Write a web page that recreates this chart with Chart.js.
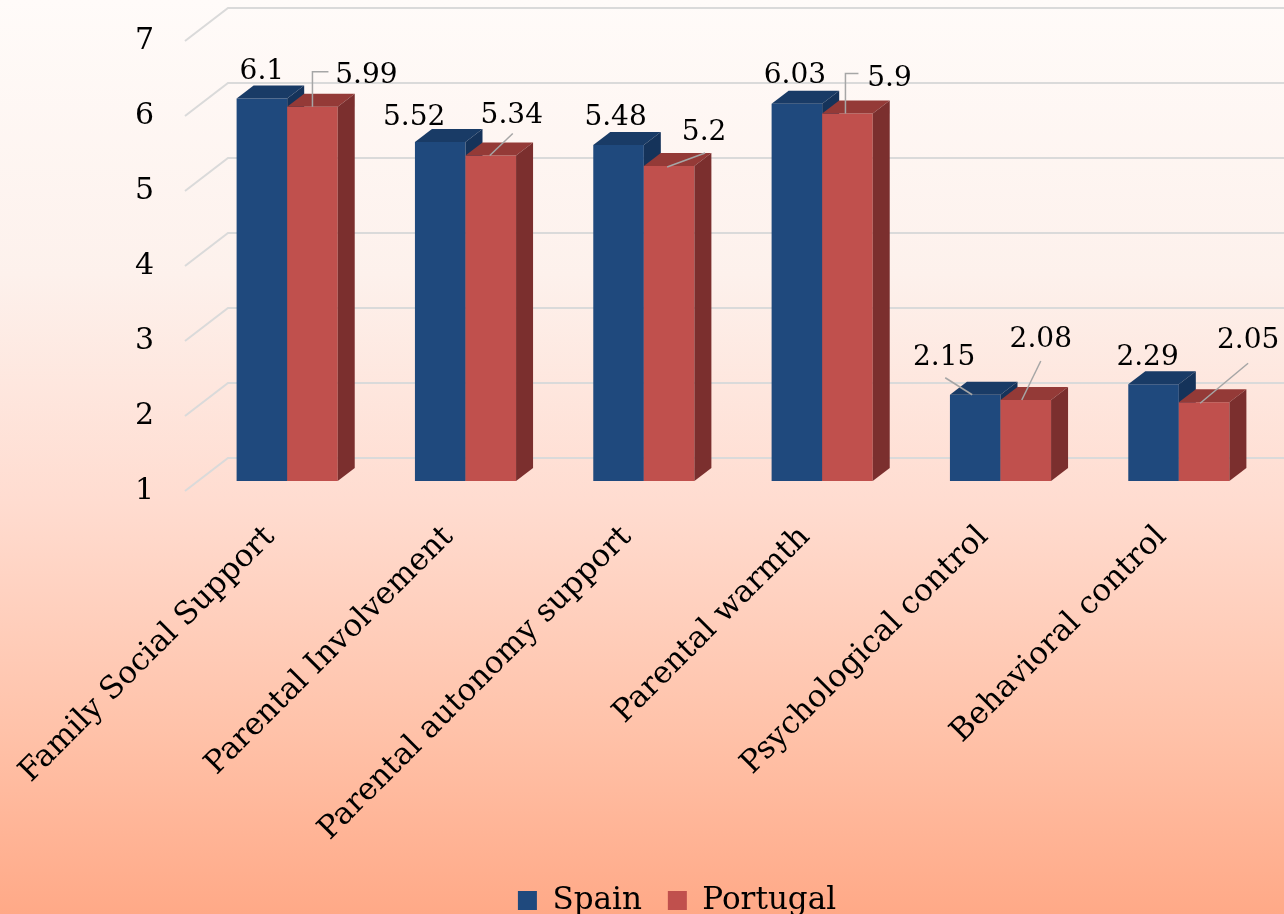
<!DOCTYPE html>
<html>
<head>
<meta charset="utf-8">
<title>Spain vs Portugal</title>
<script src="https://cdn.jsdelivr.net/npm/chart.js@4.4.1/dist/chart.umd.min.js"></script>
<style>
  html, body { margin: 0; padding: 0; background: #fff; }
  #wrap { width: 1284px; height: 914px; }
</style>
</head>
<body>
<div id="wrap"><canvas id="chart" width="1284" height="914"></canvas></div>
<script>
// Chart values
const categories = [
  'Family Social Support',
  'Parental Involvement',
  'Parental autonomy support',
  'Parental warmth',
  'Psychological control',
  'Behavioral control'
];
const spainValues = [6.1, 5.52, 5.48, 6.03, 2.15, 2.29];
const portugalValues = [5.99, 5.34, 5.2, 5.9, 2.08, 2.05];
const yTicks = [1, 2, 3, 4, 5, 6, 7];

// Colours for the 3D faces
const spainColors = { front: '#1F497D', top: '#193B66', side: '#15335A' };
const portugalColors = { front: '#C0504D', top: '#943A37', side: '#7B2F2E' };
const FONT = '"DejaVu Serif", "Liberation Serif", serif';

// Depth offsets (px) for the fake 3D look
const barDepth = { dx: 17, dy: 13 };
const frontPlane = { dx: -13, dy: 10 };
const backPlane = { dx: 30, dy: -23 };

// Data label placement relative to the top-centre of each bar front
const spainLabelPos = [[0, -20], [-26, -17], [-3, -20], [-2, -21], [-31, -30], [-6, -19]];
const spainLeaders = [null, null, null, null, [[-30, -17], [-3, 0]], null];
const portugalLabelPos = [[54, -24], [21, -33], [35, -26], [42, -28], [15, -53], [44, -54]];
const portugalLeaders = [
  [[0, 0], [0, -35], [16, -35]],
  [[-1, 0], [22, -22]],
  [[-2, 1], [36, -13]],
  [[-2, 0], [-2, -40], [11, -40]],
  [[-4, 0], [15, -39]],
  [[-4, 1], [44, -39]]
];

const LEFT_PAD = 86;
const AREA_LEFT = 198;
const AREA_BOTTOM = 481;
const BOTTOM_PAD = -12;

// Background gradient
const backgroundPlugin = {
  id: 'bgGradient',
  beforeDraw(chart) {
    const ctx = chart.ctx;
    const g = ctx.createLinearGradient(0, 0, 0, chart.height);
    g.addColorStop(0, '#FFFBF9');
    g.addColorStop(0.3, '#FDF1EC');
    g.addColorStop(0.55, '#FFDCD0');
    g.addColorStop(0.8, '#FFC2A9');
    g.addColorStop(1, '#FFA987');
    ctx.save();
    ctx.fillStyle = g;
    ctx.fillRect(0, 0, chart.width, chart.height);
    ctx.restore();
  }
};

function poly(ctx, pts, color) {
  ctx.beginPath();
  ctx.moveTo(pts[0][0], pts[0][1]);
  for (let k = 1; k < pts.length; k++) ctx.lineTo(pts[k][0], pts[k][1]);
  ctx.closePath();
  ctx.fillStyle = color;
  ctx.fill();
}

function drawBar(ctx, el, colors) {
  const p = el.getProps(['x', 'y', 'base', 'width'], true);
  const l = p.x - p.width / 2;
  const r = p.x + p.width / 2;
  const t = p.y;
  const b = p.base;
  const { dx, dy } = barDepth;
  poly(ctx, [[l, t], [r, t], [r, b], [l, b]], colors.front);
  poly(ctx, [[l, t], [l + dx, t - dy], [r + dx, t - dy], [r, t]], colors.top);
  poly(ctx, [[r, t], [r + dx, t - dy], [r + dx, b - dy], [r, b]], colors.side);
}

function drawLabels(ctx, meta, values, positions, leaders) {
  meta.data.forEach((el, i) => {
    const p = el.getProps(['x', 'y'], true);
    const lead = leaders[i];
    if (lead) {
      ctx.beginPath();
      ctx.moveTo(p.x + lead[0][0], p.y + lead[0][1]);
      for (let k = 1; k < lead.length; k++) ctx.lineTo(p.x + lead[k][0], p.y + lead[k][1]);
      ctx.strokeStyle = '#A6A6A6';
      ctx.lineWidth = 1.5;
      ctx.stroke();
    }
    ctx.fillStyle = '#000';
    ctx.fillText(String(values[i]), p.x + positions[i][0], p.y + positions[i][1]);
  });
}

// 3D walls, bars and data labels
const threeDPlugin = {
  id: 'threeD',
  beforeDatasetsDraw(chart) {
    const ctx = chart.ctx;
    const yScale = chart.scales.y;
    const area = chart.chartArea;
    ctx.save();

    // gridlines: short diagonal on the side wall, long line on the back wall
    ctx.strokeStyle = '#DADADA';
    ctx.lineWidth = 2;
    yTicks.forEach(v => {
      const y = yScale.getPixelForValue(v);
      ctx.beginPath();
      ctx.moveTo(area.left + frontPlane.dx, y + frontPlane.dy);
      ctx.lineTo(area.left + backPlane.dx, y + backPlane.dy);
      ctx.lineTo(chart.width, y + backPlane.dy);
      ctx.stroke();
    });

    const spainMeta = chart.getDatasetMeta(0);
    const portugalMeta = chart.getDatasetMeta(1);
    for (let i = 0; i < categories.length; i++) {
      drawBar(ctx, spainMeta.data[i], spainColors);
      drawBar(ctx, portugalMeta.data[i], portugalColors);
    }

    ctx.font = '28px ' + FONT;
    ctx.textAlign = 'center';
    ctx.textBaseline = 'alphabetic';
    drawLabels(ctx, spainMeta, spainValues, spainLabelPos, spainLeaders);
    drawLabels(ctx, portugalMeta, portugalValues, portugalLabelPos, portugalLeaders);

    ctx.restore();
    return false;
  }
};

const ctx = document.getElementById('chart').getContext('2d');
const chart = new Chart(ctx, {
  type: 'bar',
  data: {
    labels: categories,
    datasets: [
      {
        label: 'Spain',
        data: spainValues,
        backgroundColor: spainColors.front,
        borderWidth: 0
      },
      {
        label: 'Portugal',
        data: portugalValues,
        backgroundColor: portugalColors.front,
        borderWidth: 0
      }
    ]
  },
  options: {
    responsive: false,
    animation: false,
    devicePixelRatio: 1,
    layout: {
      padding: { top: 31, right: 16, left: LEFT_PAD, bottom: BOTTOM_PAD }
    },
    datasets: {
      bar: {
        base: 1,
        barPercentage: 1,
        categoryPercentage: 0.567
      }
    },
    scales: {
      x: {
        grid: { display: false },
        border: { display: false },
        ticks: {
          autoSkip: false,
          minRotation: 45,
          maxRotation: 45,
          labelOffset: -17,
          padding: 30,
          color: '#000',
          font: { family: FONT, size: 31 }
        },
        afterFit(scale) {
          scale.paddingLeft = 0;
          scale.paddingRight = 0;
          scale.height = scale.chart.height - BOTTOM_PAD - scale.chart.legend.height - AREA_BOTTOM;
        }
      },
      y: {
        min: 1,
        max: 7,
        grid: { display: false, drawTicks: false },
        border: { display: false },
        ticks: {
          stepSize: 1,
          padding: 44,
          labelOffset: 10,
          color: '#000',
          font: { family: FONT, size: 30 }
        },
        afterFit(scale) {
          scale.paddingTop = 0;
          scale.paddingBottom = 0;
          scale.width = AREA_LEFT - LEFT_PAD;
        }
      }
    },
    plugins: {
      legend: {
        position: 'bottom',
        labels: {
          boxWidth: 19,
          boxHeight: 19,
          padding: 26,
          color: '#000',
          font: { family: FONT, size: 31 }
        }
      },
      tooltip: { enabled: false }
    }
  },
  plugins: [backgroundPlugin, threeDPlugin]
});
</script>
</body>
</html>
